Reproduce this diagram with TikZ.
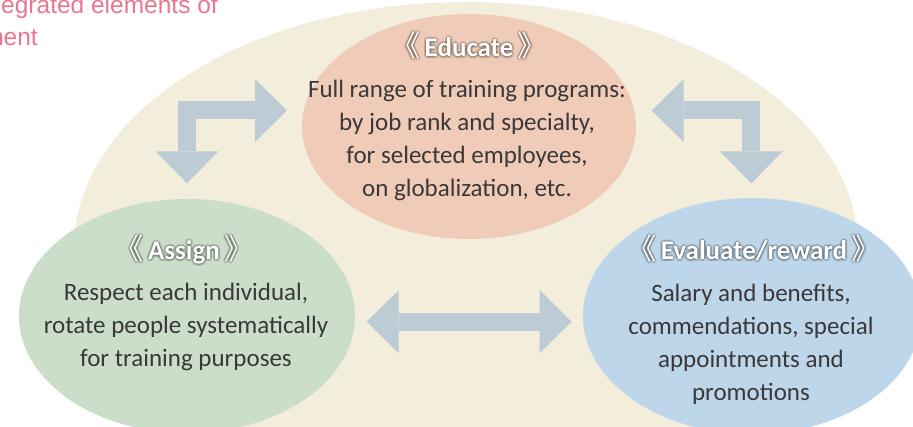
\documentclass[tikz,border=0pt]{standalone}
\usepackage{fontspec}
\setmainfont{Carlito}
\newfontfamily\cjk{Noto Sans CJK SC}
\newfontfamily\headfont{Liberation Sans}
\usetikzlibrary{shapes.geometric,arrows.meta}

\definecolor{bgbeige}{RGB}{243,237,220}
\definecolor{peach}{RGB}{240,204,184}
\definecolor{sage}{RGB}{203,222,202}
\definecolor{sky}{RGB}{190,214,234}
\definecolor{arrowc}{RGB}{189,204,212}
\definecolor{bodyc}{RGB}{58,56,56}
\definecolor{pinkc}{RGB}{234,118,145}

\pgfdeclareradialshading{blob}{\pgfpoint{0bp}{0bp}}{color(0bp)=(bgbeige); color(42bp)=(bgbeige); color(50bp)=(white); color(100bp)=(white)}

\tikzset{
  elem/.style={ellipse, inner sep=0pt, draw=none},
  ttl/.style={anchor=base, inner sep=0pt, text=white, font=\fontsize{27}{30}\selectfont\bfseries},
  body/.style={anchor=base, inner sep=0pt, align=center, text=bodyc, font=\fontsize{25}{33}\selectfont},
  blockarrow/.style={draw=arrowc, line width=18pt,
    arrows={Triangle[length=32pt,width=63pt,line width=0pt]-Triangle[length=32pt,width=63pt,line width=0pt]}}
}
\newcommand{\lbr}{{\cjk\mdseries\fontsize{29}{30}\selectfont 《}}
\newcommand{\rbr}{{\cjk\mdseries\fontsize{29}{30}\selectfont 》}}

% white title with a soft grey glow
\newcommand{\ttlnode}[3]{%
  \foreach \dx/\dy in {-2/0,2/0,0/-2,0/2,-1.5/-1.5,1.5/1.5,-1.5/1.5,1.5/-1.5,-1/0,1/0,0/1,0/-1}
    {\node[ttl, text=black, opacity=0.09] at ([shift={(\dx,\dy)}]#2) {#3};}
  \node[ttl] (#1) at (#2) {#3};}

\begin{document}
\begin{tikzpicture}[x=1pt, y=-1pt]
  \clip (0,0) rectangle (913,427);
  \useasboundingbox (0,0) rectangle (913,427);

  % backdrop
  \shade[shading=blob] (466,248) ellipse [x radius=392pt, y radius=246pt];

  % cut-off heading
  \node[anchor=base east, inner sep=0pt, text=pinkc, font=\headfont\fontsize{24.5}{30}\selectfont] (head1) at (218,14) {egrated elements of};
  \node[anchor=base east, inner sep=0pt, text=pinkc, font=\headfont\fontsize{24.5}{30}\selectfont] (head2) at (38,46) {ment};

  % the three elements
  \node[elem, fill=peach, minimum width=334pt, minimum height=225pt] (educate) at (469,126.5) {};
  \node[elem, fill=sage, minimum width=336pt, minimum height=234pt] (assign) at (187,316) {};
  \node[elem, fill=sky, minimum width=338pt, minimum height=236pt] (evaluate) at (752,316) {};

  \ttlnode{educateT}{469,56.7}{\lbr\,Educate\,\rbr}
  \ttlnode{assignT}{184,260}{\lbr\,Assign\,\rbr}
  \ttlnode{evaluateT}{754,260}{\lbr\,Evaluate/reward\,\rbr}

  % body texts, placed by their last baseline
  \node[body] (educateB) at (467,197) {Full range of training programs:\\by job rank and specialty,\\for selected employees,\\on globalization, etc.};
  \node[body] (assignB) at (186,366.7) {Respect each individual,\\rotate people systematically\\for training purposes};
  \node[body] (evaluateB) at (751,400.5) {Salary and benefits,\\commendations, special\\appointments and\\promotions};

  % arrows between them
  \coordinate (edL) at (287,110.5);
  \coordinate (asT) at (187,183.3);
  \coordinate (edR) at (651.7,110.5);
  \coordinate (evT) at (751.3,183.3);
  \coordinate (asR) at (366.7,321.7);
  \coordinate (evL) at (571.7,321.7);
  \draw[blockarrow] (edL) -| (asT);
  \draw[blockarrow] (edR) -| (evT);
  \draw[blockarrow] (asR) -- (evL);
\end{tikzpicture}
\end{document}
